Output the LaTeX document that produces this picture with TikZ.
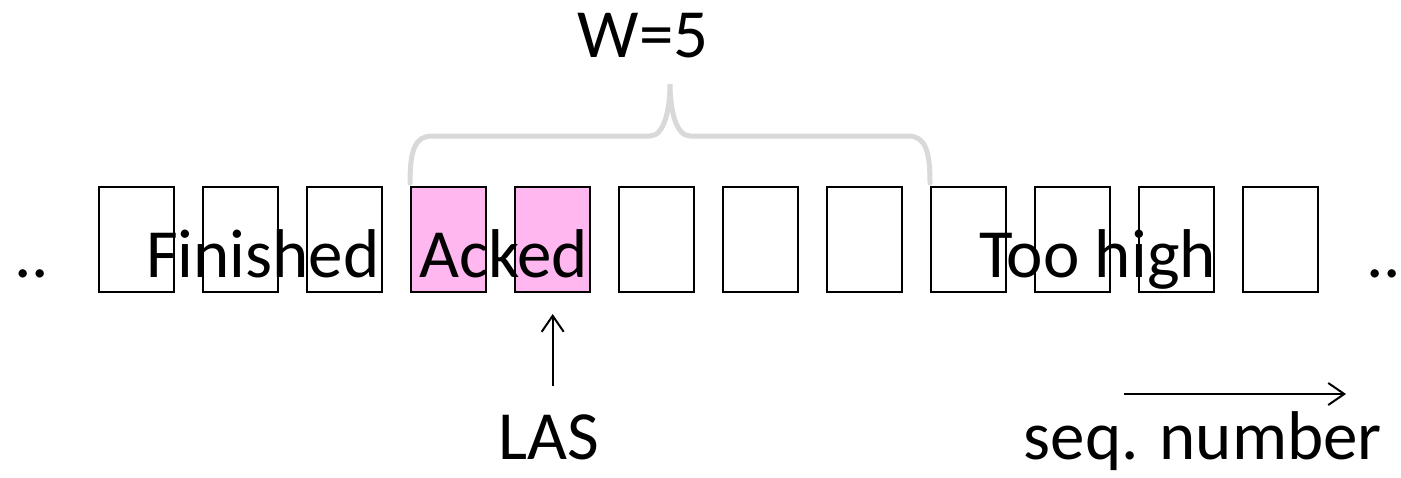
\documentclass[tikz,border=0pt]{standalone}
\usepackage{fontspec}
\setmainfont{Carlito}
\usetikzlibrary{arrows.meta}
\definecolor{ackpink}{RGB}{255,183,240}
\definecolor{bracegray}{RGB}{217,217,217}
\tikzset{
  slot/.style={draw=black, line width=2pt, minimum width=75pt, minimum height=105pt, inner sep=0pt, anchor=north west},
  acked/.style={slot, fill=ackpink},
  lbl/.style={inner sep=0pt, font=\fontsize{69}{80}\selectfont},
  arr/.style={line width=2pt, -{Straight Barb[length=16pt,width=22pt]}},
  brace/.style={draw=bracegray, line width=5pt, line cap=round}
}
\begin{document}
\begin{tikzpicture}[x=1pt,y=-1pt]
\useasboundingbox (0,0) rectangle (1401,477);
\foreach \i in {0,...,11} {
  \pgfmathsetmacro{\xx}{98+104*\i}
  \ifnum\i=3 \node[acked] (b\i) at (\xx,186) {};
  \else\ifnum\i=4 \node[acked] (b\i) at (\xx,186) {};
  \else \node[slot] (b\i) at (\xx,186) {};
  \fi\fi
}
\node[lbl, anchor=base west] (dl) at (14,277) {..};
\node[lbl, anchor=base west] (dr) at (1366,277) {..};
\node[lbl, anchor=base west] (fin) at (146,277) {Finished};
\node[lbl, anchor=base west] (ack) at (419,277) {Acked};
\node[lbl, anchor=base west] (too) at (979,277) {Too high};
\node[lbl, anchor=base] (w) at (643,57) {W=5};
\node[lbl, anchor=base] (las) at (549,459) {LAS};
\node[lbl, anchor=base] (seq) at (1203,459) {seq. number};
\coordinate (bl) at (410,183);
\coordinate (br) at (930,183);
\coordinate (tip) at (670,84);
\draw[brace] (bl) .. controls (410,150) and (415,136) .. (432,136) -- (650,136)
  .. controls (664,136) and (670,110) .. (tip)
  .. controls (670,110) and (676,136) .. (690,136) -- (908,136)
  .. controls (925,136) and (930,150) .. (br);
\coordinate (lasfrom) at (552.7,386);
\coordinate (lasto) at (552.7,314);
\draw[arr] (lasfrom) -- (lasto);
\coordinate (seqfrom) at (1124,394);
\coordinate (seqto) at (1346,394);
\draw[arr] (seqfrom) -- (seqto);
\end{tikzpicture}
\end{document}
